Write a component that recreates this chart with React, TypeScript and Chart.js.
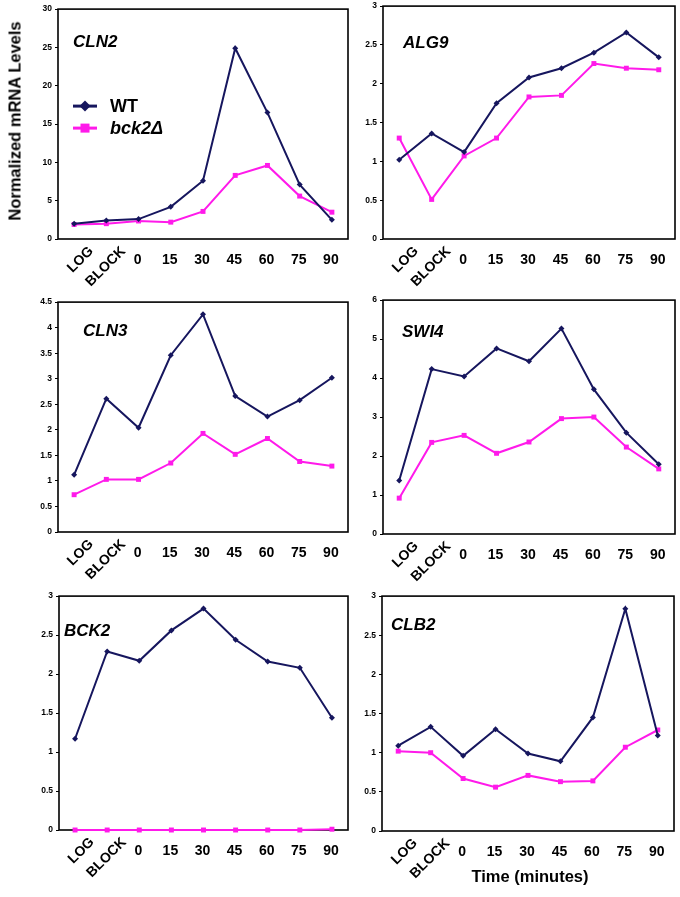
import React, { useEffect, useRef } from 'react';
import { Chart, registerables } from 'chart.js';
Chart.register(...registerables);

// ---- data ----
const timeLabels = ['LOG', 'BLOCK', '0', '15', '30', '45', '60', '75', '90'];
const seriesNames = ['WT', 'bck2Δ'];
const geneNames = ['CLN2', 'ALG9', 'CLN3', 'SWI4', 'BCK2', 'CLB2'];
const cln2WT = [2.0, 2.4, 2.6, 4.2, 7.6, 24.9, 16.5, 7.1, 2.5];
const cln2Bck2 = [1.9, 2.0, 2.35, 2.2, 3.6, 8.3, 9.6, 5.6, 3.5];
const alg9WT = [1.02, 1.36, 1.12, 1.75, 2.08, 2.2, 2.4, 2.66, 2.34];
const alg9Bck2 = [1.3, 0.51, 1.07, 1.3, 1.83, 1.85, 2.26, 2.2, 2.18];
const cln3WT = [1.12, 2.61, 2.04, 3.46, 4.26, 2.66, 2.26, 2.58, 3.02];
const cln3Bck2 = [0.73, 1.03, 1.03, 1.35, 1.93, 1.52, 1.83, 1.38, 1.29];
const swi4WT = [1.37, 4.23, 4.04, 4.76, 4.43, 5.27, 3.71, 2.6, 1.79];
const swi4Bck2 = [0.92, 2.35, 2.53, 2.07, 2.36, 2.96, 3.0, 2.23, 1.67];
const bck2WT = [1.17, 2.29, 2.17, 2.56, 2.84, 2.44, 2.16, 2.08, 1.44];
const bck2Bck2 = [0, 0, 0, 0, 0, 0, 0, 0, 0.01];
const clb2WT = [1.09, 1.33, 0.96, 1.3, 0.99, 0.89, 1.45, 2.84, 1.22];
const clb2Bck2 = [1.02, 1.0, 0.67, 0.56, 0.71, 0.63, 0.64, 1.07, 1.29];
const yMaxValues = [30, 3, 4.5, 6, 3, 3];
const yStepValues = [5, 0.5, 0.5, 1, 0.5, 0.5];

const wtSeries = [cln2WT, alg9WT, cln3WT, swi4WT, bck2WT, clb2WT];
const mutSeries = [cln2Bck2, alg9Bck2, cln3Bck2, swi4Bck2, bck2Bck2, clb2Bck2];

// ---- styles / layout ----
const WT_COLOR = '#16165e';
const MUT_COLOR = '#ff1aea';
const FONT = '"Liberation Sans", Arial, sans-serif';

// plot-area rectangles: left, top, right, bottom
const plotRects = [
  [58, 9, 348, 239],
  [383, 6, 675, 239],
  [58, 302, 348, 532],
  [383, 300, 675, 534],
  [59, 596, 348, 830],
  [382, 596, 674, 831],
];
// title offsets from plot left/top (x, baseline)
const titleOffsets = [
  [15, 38],
  [20, 42],
  [25, 34],
  [19, 37],
  [5, 40],
  [9, 34],
];

const AXIS_W = 45;
const PAD_TOP = 8;
const PAD_RIGHT = 5;
const XAXIS_H = 60;

function drawDiamond(ctx: CanvasRenderingContext2D, x: number, y: number, r: number) {
  ctx.beginPath();
  ctx.moveTo(x, y - r);
  ctx.lineTo(x + r, y);
  ctx.lineTo(x, y + r);
  ctx.lineTo(x - r, y);
  ctx.closePath();
  ctx.fill();
}

function Panel({ idx }: { idx: number }) {
  const ref = useRef<HTMLCanvasElement | null>(null);
  const [L, T, R, B] = plotRects[idx];
  const cw = R - L + AXIS_W + PAD_RIGHT;
  const ch = B - T + PAD_TOP + XAXIS_H;

  useEffect(() => {
    if (!ref.current) return;
    const deco = {
      id: 'deco' + idx,
      beforeDatasetsDraw(chart: any) {
        const { ctx, chartArea } = chart;
        ctx.save();
        ctx.strokeStyle = '#000';
        ctx.lineWidth = 1.6;
        ctx.strokeRect(chartArea.left, chartArea.top, chartArea.right - chartArea.left, chartArea.bottom - chartArea.top);
        ctx.restore();
      },
      afterDraw(chart: any) {
        const { ctx, chartArea, scales } = chart;
        const xs = scales.x;
        ctx.save();
        ctx.fillStyle = '#000';
        // x labels
        timeLabels.forEach((lab, i) => {
          const x = xs.getPixelForValue(i);
          if (i < 2) {
            ctx.save();
            ctx.font = `bold 14px ${FONT}`;
            ctx.translate(x + 17, chartArea.bottom + 10);
            ctx.rotate(-Math.PI / 4);
            ctx.textAlign = 'right';
            ctx.textBaseline = 'middle';
            ctx.fillText(lab, 0, 0);
            ctx.restore();
          } else {
            ctx.font = `bold 14px ${FONT}`;
            ctx.textAlign = 'center';
            ctx.textBaseline = 'top';
            ctx.fillText(lab, x - 1, chartArea.bottom + 14);
          }
        });
        // gene title
        ctx.font = `italic bold 17px ${FONT}`;
        ctx.textAlign = 'left';
        ctx.textBaseline = 'alphabetic';
        ctx.fillText(geneNames[idx], chartArea.left + titleOffsets[idx][0], chartArea.top + titleOffsets[idx][1]);
        // legend on first panel
        if (idx === 0) {
          const lx = chartArea.left + 15;
          const rows = [
            { y: chartArea.top + 97, color: WT_COLOR, name: seriesNames[0], italic: false },
            { y: chartArea.top + 119, color: MUT_COLOR, name: seriesNames[1], italic: true },
          ];
          rows.forEach((r, k) => {
            ctx.strokeStyle = r.color;
            ctx.fillStyle = r.color;
            ctx.lineWidth = 3;
            ctx.beginPath();
            ctx.moveTo(lx, r.y);
            ctx.lineTo(lx + 24, r.y);
            ctx.stroke();
            if (k === 0) drawDiamond(ctx, lx + 12, r.y, 5.5);
            else ctx.fillRect(lx + 12 - 4.5, r.y - 4.5, 9, 9);
            ctx.fillStyle = '#000';
            ctx.font = `${r.italic ? 'italic ' : ''}bold 18px ${FONT}`;
            ctx.textBaseline = 'middle';
            ctx.fillText(r.name, lx + 37, r.y + 1);
          });
        }
        ctx.restore();
      },
    };

    const chart = new Chart(ref.current, {
      type: 'line',
      data: {
        labels: timeLabels,
        datasets: [
          {
            label: seriesNames[0],
            data: wtSeries[idx],
            borderColor: WT_COLOR,
            backgroundColor: WT_COLOR,
            borderWidth: 2,
            pointStyle: 'rectRot',
            pointRadius: 3,
            pointBorderWidth: 0,
            tension: 0,
            clip: false as any,
          },
          {
            label: seriesNames[1],
            data: mutSeries[idx],
            borderColor: MUT_COLOR,
            backgroundColor: MUT_COLOR,
            borderWidth: 2,
            pointStyle: 'rect',
            pointRadius: 3.5,
            pointBorderWidth: 0,
            tension: 0,
            clip: false as any,
          },
        ],
      },
      options: {
        animation: false,
        responsive: false,
        maintainAspectRatio: false,
        devicePixelRatio: 1,
        layout: { padding: { top: PAD_TOP, right: PAD_RIGHT, left: 0, bottom: 0 } },
        plugins: { legend: { display: false }, tooltip: { enabled: false }, title: { display: false } },
        scales: {
          x: {
            type: 'category',
            offset: true,
            grid: { display: false },
            border: { display: false },
            ticks: { display: false },
            afterFit: (s: any) => { s.height = XAXIS_H; },
          },
          y: {
            min: 0,
            max: yMaxValues[idx],
            grid: { display: true, drawOnChartArea: false, drawTicks: true, tickLength: 3, color: '#000', lineWidth: 1 },
            border: { display: false },
            ticks: {
              stepSize: yStepValues[idx],
              color: '#000',
              font: { family: FONT, size: 8.5, weight: 'bold' },
              padding: 3,
              callback: (v: any) => String(Math.round(Number(v) * 100) / 100),
            },
            afterFit: (s: any) => { s.width = AXIS_W; },
          },
        },
      },
      plugins: [deco],
    } as any);
    return () => chart.destroy();
  }, [idx]);

  return (
    <canvas
      ref={ref}
      width={cw}
      height={ch}
      style={{ position: 'absolute', left: L - AXIS_W, top: T - PAD_TOP, width: cw, height: ch }}
    />
  );
}

export default function App() {
  return (
    <div style={{ position: 'fixed', left: 0, top: 0, width: 680, height: 897, background: '#fff', overflow: 'hidden' }}>
      {geneNames.map((_, i) => (
        <Panel key={i} idx={i} />
      ))}
      <div
        style={{
          position: 'absolute',
          left: 15,
          top: 121,
          transform: 'translate(-50%, -50%) rotate(-90deg)',
          whiteSpace: 'nowrap',
          fontFamily: FONT,
          fontWeight: 'bold',
          fontSize: 16.5,
          color: '#000',
        }}
      >
        Normalized mRNA Levels
      </div>
      <div
        style={{
          position: 'absolute',
          left: 530,
          top: 866,
          transform: 'translateX(-50%)',
          whiteSpace: 'nowrap',
          fontFamily: FONT,
          fontWeight: 'bold',
          fontSize: 16.5,
          lineHeight: '20px',
          color: '#000',
        }}
      >
        Time (minutes)
      </div>
    </div>
  );
}
